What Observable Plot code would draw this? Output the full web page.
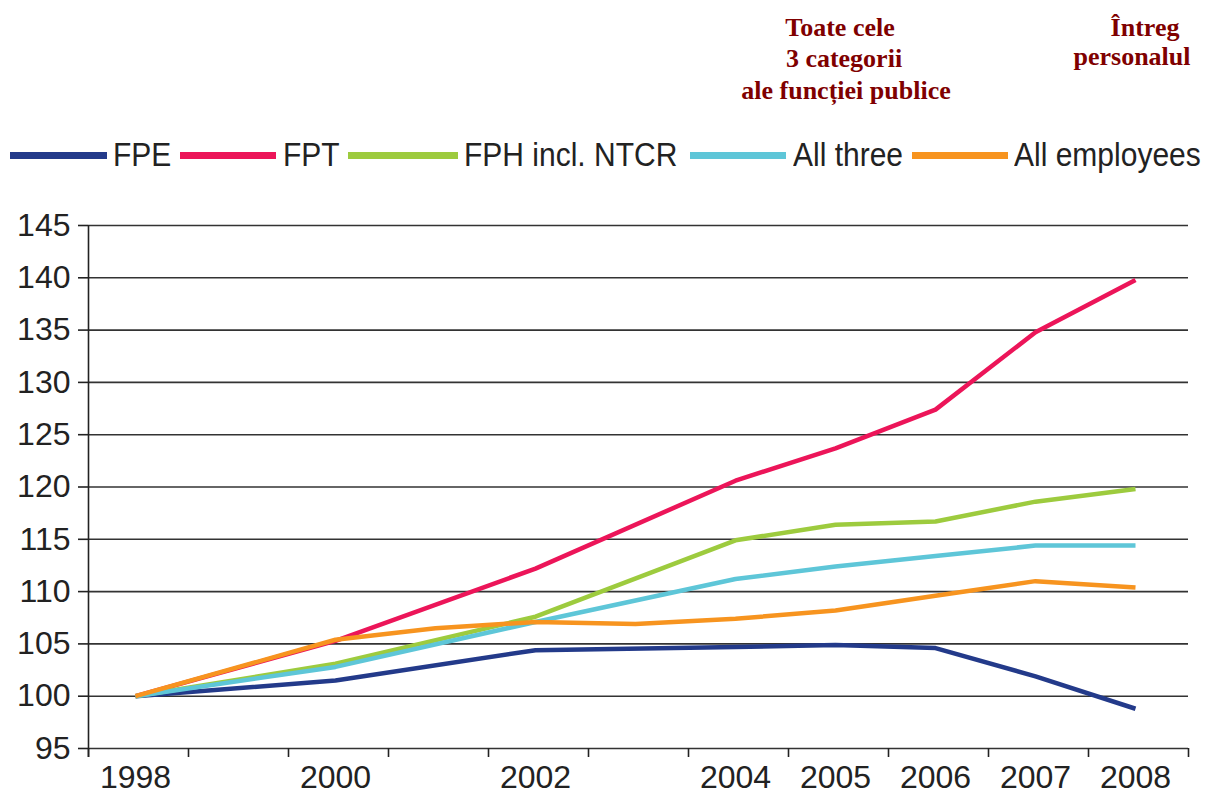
<!DOCTYPE html>
<html>
<head>
<meta charset="utf-8">
<script src="https://cdn.jsdelivr.net/npm/d3@7"></script>
<script src="https://cdn.jsdelivr.net/npm/@observablehq/plot@0.6"></script>
<style>
  html, body { margin: 0; padding: 0; background: #fff; }
  #wrap { position: relative; width: 1209px; height: 795px; overflow: hidden; background: #fff; }
  .ann { position: absolute; transform: translateX(-50%); white-space: nowrap;
         font-family: "Liberation Serif", "Times New Roman", serif; font-weight: bold;
         font-size: 26px; line-height: 26px; color: #7f0000; }
  .sw { position: absolute; height: 7px; }
  .lt { position: absolute; font-family: "Liberation Sans", Arial, sans-serif; font-size: 30px;
        line-height: 30px; color: #222; white-space: nowrap; transform: scaleY(1.1); transform-origin: 50% 50%; }
  #chart { position: absolute; left: 0; top: 200px; }
</style>
</head>
<body>
<div id="wrap">
  <div id="annotations"></div>
  <div id="legend"></div>
  <div id="chart"></div>
</div>
<script>
// ---- data ----
const seriesNames = ["FPE", "FPT", "FPH incl. NTCR", "All three", "All employees"];
const seriesColors = ["#233a8a", "#ec1559", "#9dcb3e", "#5ec6d8", "#f7941f"];

const years = [1998, 2000, 2002, 2004, 2005, 2006, 2007, 2008];
const fpe = [100, 101.5, 104.4, 104.7, 104.9, 104.6, 101.9, 98.8];
const fpt = [100, 105.3, 112.2, 120.6, 123.7, 127.4, 134.8, 139.8];
const fph = [100, 103.1, 107.6, 114.9, 116.4, 116.7, 118.6, 119.8];
const allThree = [100, 102.8, 107.1, 111.2, 112.4, 113.4, 114.4, 114.4];

const allEmpYears = [1998, 2000, 2001, 2002, 2003, 2004, 2005, 2006, 2007, 2008];
const allEmp = [100, 105.4, 106.5, 107.1, 106.9, 107.4, 108.2, 109.6, 111.0, 110.4];

const xTickLabels = [1998, 2000, 2002, 2004, 2005, 2006, 2007, 2008];
const yTicks = [95, 100, 105, 110, 115, 120, 125, 130, 135, 140, 145];

const annotLeft = ["Toate cele", "3 categorii", "ale funcției publice"];
const annotRight = ["Întreg", "personalul"];

// ---- build table ----
const rows = [];
[fpe, fpt, fph, allThree].forEach((vals, si) => {
  vals.forEach((v, i) => rows.push({series: seriesNames[si], year: years[i], value: v}));
});
allEmp.forEach((v, i) => rows.push({series: seriesNames[4], year: allEmpYears[i], value: v}));

// ---- annotations ----
const ann = document.getElementById("annotations");
const leftTops = [15, 46, 78], leftCenters = [840, 844, 846];
annotLeft.forEach((t, i) => {
  const d = document.createElement("div");
  d.className = "ann"; d.textContent = t;
  d.style.left = leftCenters[i] + "px"; d.style.top = leftTops[i] + "px";
  ann.appendChild(d);
});
const rightTops = [15, 44], rightCenters = [1145, 1132];
annotRight.forEach((t, i) => {
  const d = document.createElement("div");
  d.className = "ann"; d.textContent = t;
  d.style.left = rightCenters[i] + "px"; d.style.top = rightTops[i] + "px";
  ann.appendChild(d);
});

// ---- legend ----
const leg = document.getElementById("legend");
const swX = [[10, 107], [180, 276], [348, 458], [690, 786], [912, 1008]];
const txX = [113, 283, 464, 793, 1014];
seriesNames.forEach((name, i) => {
  const s = document.createElement("div");
  s.className = "sw";
  s.style.left = swX[i][0] + "px"; s.style.width = (swX[i][1] - swX[i][0]) + "px";
  s.style.top = "152px"; s.style.background = seriesColors[i];
  leg.appendChild(s);
  const t = document.createElement("div");
  t.className = "lt"; t.textContent = name;
  t.style.left = txX[i] + "px"; t.style.top = "140px";
  leg.appendChild(t);
});

// ---- chart ----
const x0 = 1997.53, x1 = 2008.53;
const halfTicks = d3.range(0, 12).map(k => x0 + k);

const chart = Plot.plot({
  width: 1209,
  height: 595,
  marginTop: 25,
  marginBottom: 47,
  marginLeft: 88,
  marginRight: 21,
  style: {fontFamily: "'Liberation Sans', Arial, sans-serif", color: "#222", background: "white", overflow: "visible"},
  x: {domain: [x0, x1], label: null},
  y: {domain: [95, 145], label: null},
  color: {domain: seriesNames, range: seriesColors},
  marks: [
    Plot.gridY(yTicks, {stroke: "#333", strokeOpacity: 1, strokeWidth: 1.6}),
    Plot.axisY({ticks: yTicks, tickSize: 10, tickPadding: 8, fontSize: 32, strokeWidth: 1.6, label: null}),
    Plot.ruleX([x0], {stroke: "#222", strokeWidth: 1.6, insetBottom: -9}),
    Plot.axisX({ticks: halfTicks, tickSize: 9, tickFormat: () => "", strokeWidth: 1.6, label: null}),
    Plot.axisX({ticks: xTickLabels, tickSize: 0, tickPadding: 17, fontSize: 32, tickFormat: d => String(d), label: null}),
    Plot.line(rows, {x: "year", y: "value", z: "series", stroke: "series", strokeWidth: 4.5, strokeLinejoin: "round", strokeLinecap: "butt"})
  ]
});
document.getElementById("chart").appendChild(chart);
</script>
</body>
</html>
